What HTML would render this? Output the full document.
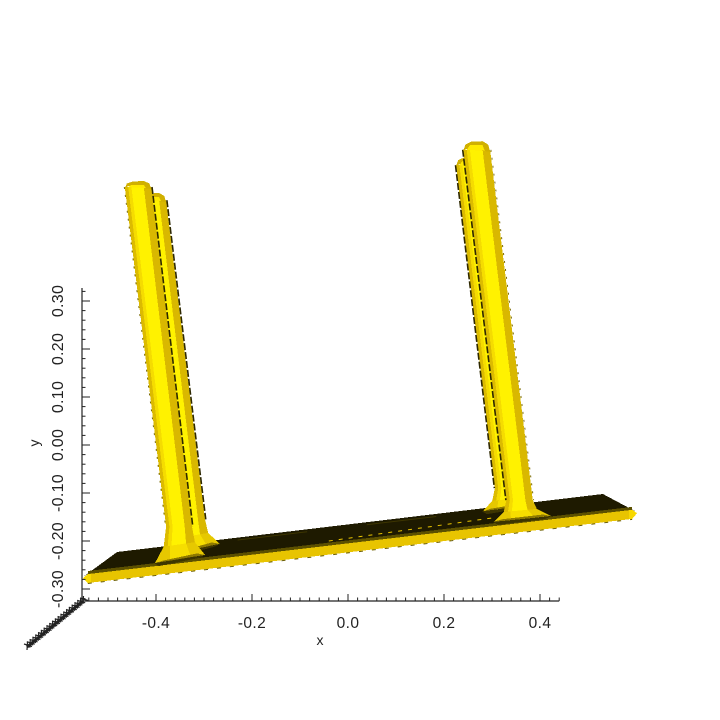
<!DOCTYPE html>
<html lang="en">
<head>
<meta charset="utf-8">
<title>3D surface</title>
<style>
html,body{margin:0;padding:0;background:#fff;width:720px;height:720px;overflow:hidden}
svg{display:block}
text{font-family:"Liberation Sans",sans-serif;fill:#222}
</style>
</head>
<body>
<svg id="chart" xmlns="http://www.w3.org/2000/svg" width="720" height="720" viewBox="0 0 720 720">
<rect width="720" height="720" fill="#fff"/>
</svg>
<script>
// Axis data
const xTickValues = [-0.4, -0.2, 0, 0.2, 0.4];
const xTickLabels = ["-0.4", "-0.2", "0.0", "0.2", "0.4"];
const yTickValues = [-0.3, -0.2, -0.1, 0, 0.1, 0.2, 0.3];
const yTickLabels = ["-0.30", "-0.20", "-0.10", "0.00", "0.10", "0.20", "0.30"];
const xRange = [-0.55, 0.44];
const yRange = [-0.325, 0.327];
const zTickCount = 20;

// Plate values, in axis units
const plateTopX = [-0.552, -0.481, 0.531, 0.602, 0.592, -0.542];
const plateTopY = [-0.275, -0.223, -0.102, -0.140, -0.135, -0.269];
const plateRimX = [-0.542, 0.592, 0.592, -0.542];
const plateRimY = [-0.2625, -0.129, -0.135, -0.269];
const plateFrontX = [-0.552, -0.542, 0.592, 0.602, 0.592, -0.542];
const plateFrontY = [-0.277, -0.269, -0.135, -0.142, -0.154, -0.2875];
const plateStreakX = [-0.23, 0.31];
const plateStreakY = [-0.198, -0.134];
const glintX = [-0.04, 0.30];
const glintY = [-0.200, -0.152];

// Column values, in axis units: back-left, front-left, back-right, front-right
const columnNames = ["back-left", "front-left", "back-right", "front-right"];
const topLeftX = [-0.431, -0.465, 0.225, 0.240];
const topRightX = [-0.379, -0.410, 0.279, 0.296];
const shoulderY = [0.510, 0.5375, 0.583, 0.615];
const apexY = [0.525, 0.550, 0.600, 0.633];
const neckLeftX = [-0.350, -0.379, 0.306, 0.330];
const neckRightX = [-0.298, -0.325, 0.360, 0.385];
const neckY = [-0.155, -0.170, -0.090, -0.115];
const flareLeftX = [-0.360, -0.402, 0.281, 0.304];
const flareLeftY = [-0.225, -0.246, -0.138, -0.160];
const flareRightX = [-0.267, -0.298, 0.379, 0.423];
const flareRightY = [-0.206, -0.229, -0.125, -0.148];

const svg = document.getElementById('chart');
const NS = 'http://www.w3.org/2000/svg';
const sx = v => 348 + v * 480;
const sy = v => 445 - v * 480;
const lerp = (a, b, t) => a + (b - a) * t;

function poly(name, pts, fill) {
  const el = document.createElementNS(NS, 'polygon');
  
  
  el.setAttribute('points', pts.map(p => p[0].toFixed(1) + ',' + p[1].toFixed(1)).join(' '));
  el.setAttribute('fill', fill);
  el.setAttribute('shape-rendering', 'crispEdges');
  svg.appendChild(el);
  return el;
}
function line(name, x1, y1, x2, y2, color, width, dash) {
  const el = document.createElementNS(NS, 'line');
  
  
  el.setAttribute('x1', x1);
  el.setAttribute('y1', y1);
  el.setAttribute('x2', x2);
  el.setAttribute('y2', y2);
  el.setAttribute('stroke', color);
  el.setAttribute('stroke-width', width);
  if (dash) el.setAttribute('stroke-dasharray', dash);
  svg.appendChild(el);
  return el;
}
function label(name, str, x, y, size, rotate, spacing) {
  const el = document.createElementNS(NS, 'text');
  
  
  el.setAttribute('x', x);
  el.setAttribute('y', y);
  el.setAttribute('font-size', size);
  el.setAttribute('text-anchor', 'middle');
  if (spacing) el.setAttribute('letter-spacing', spacing);
  if (rotate) el.setAttribute('transform', 'rotate(-90 ' + x + ' ' + y + ')');
  el.textContent = str;
  svg.appendChild(el);
}

function zip(xs, ys) {
  return xs.map((v, i) => [sx(v), sy(ys[i])]);
}

function drawPlate() {
  poly('plate-top-face', zip(plateTopX, plateTopY), '#1e1a00');
  poly('plate-rim', zip(plateRimX, plateRimY), '#5c5000');
  poly('plate-front-face', zip(plateFrontX, plateFrontY), '#e8c400');
  const tipL = zip(plateFrontX, plateFrontY);
  poly('plate-left-tip', [tipL[0], tipL[1], [tipL[1][0] + 3, tipL[1][1]], [tipL[5][0] + 3, tipL[5][1]], tipL[5]], '#f7d800');
  poly('plate-right-tip', [tipL[3], tipL[2], [tipL[2][0] - 3, tipL[2][1]], [tipL[4][0] - 3, tipL[4][1]], tipL[4]], '#f7d800');
  line('plate-streak', sx(plateStreakX[0]), sy(plateStreakY[0]), sx(plateStreakX[1]), sy(plateStreakY[1]), '#3d3500', 1, '70 60');
  line('plate-glint', sx(glintX[0]), sy(glintY[0]), sx(glintX[1]), sy(glintY[1]), '#e8c400', 1, '4 6');
  line('plate-front-edge', sx(plateFrontX[1]), sy(plateFrontY[5]) + 0.5, sx(plateFrontX[4]), sy(plateFrontY[4]) + 0.5, '#6b5d00', 1, '4 9');
}

function drawColumn(i) {
  const n = columnNames[i];
  const leansLeft = i < 2;
  const tl = sx(topLeftX[i]), tr = sx(topRightX[i]), ts = sy(shoulderY[i]), ap = sy(apexY[i]);
  const nl = sx(neckLeftX[i]), nr = sx(neckRightX[i]), ny = sy(neckY[i]);
  const fl = [sx(flareLeftX[i]), sy(flareLeftY[i])];
  const fr = [sx(flareRightX[i]), sy(flareRightY[i])];

  // profile at fraction a across the column: top, neck, waist of flare, flare rim
  const topAt = a => [lerp(tl, tr, a), ts];
  const neckAt = a => [lerp(nl, nr, a), ny];
  const rimAt = a => [lerp(fl[0], fr[0], a), lerp(fl[1], fr[1], a)];
  const waistAt = a => {
    const nk = neckAt(a), rm = rimAt(a);
    return [lerp(nk[0], rm[0], 0.22), lerp(nk[1], rm[1], 0.55)];
  };
  const band = (name, a, b, fill) => poly(n + '-' + name, [
    topAt(a), neckAt(a), waistAt(a), rimAt(a), rimAt(b), waistAt(b), neckAt(b), topAt(b)
  ], fill);

  // shadow under the flare rim
  poly(n + '-flare-shadow', [
    [fl[0] - 1, fl[1]], [fr[0] + 1, fr[1]], [fr[0] - 6, fr[1] + 3], [fl[0] + 4, fl[1] + 3]
  ], '#3d3500');

  band('band-left', 0, 0.13, '#dcbb00');
  band('band-left-soft', 0.13, 0.25, '#f5dc00');
  band('band-centre', 0.25, 0.72, '#fff200');
  band('band-right', 0.72, 1, '#d9b800');

  // lower flare facets
  poly(n + '-flare-facet-gold', [waistAt(0), rimAt(0), rimAt(1), waistAt(1), waistAt(0.5)], '#e6c800');
  poly(n + '-flare-facet-light', [waistAt(0.2), rimAt(0.3), rimAt(0.72), waistAt(0.72)], '#f6de00');
  poly(n + '-flare-rim', [rimAt(0), rimAt(1), [rimAt(1)[0] - 8, rimAt(1)[1] - 1.5], [rimAt(0)[0] + 8, rimAt(0)[1] - 2.5]], '#8f7a00');

  // edges
  line(n + '-left-edge', tl - 0.5, ts, nl - 0.5, ny, leansLeft ? '#7a6900' : '#2e2800', leansLeft ? 1 : 1.6, leansLeft ? '2 6' : '7 2');
  line(n + '-right-edge', tr + 0.8, ts, nr + 0.8, ny, leansLeft ? '#2e2800' : '#7a6900', leansLeft ? 1.6 : 1, leansLeft ? '7 2' : '2 6');

  // rounded cap
  poly(n + '-cap', [
    [tl, ts + 1],
    [lerp(tl, tr, 0.08), lerp(ts, ap, 0.6)],
    [lerp(tl, tr, 0.3), ap + 0.5],
    [lerp(tl, tr, 0.72), ap],
    [lerp(tl, tr, 0.93), lerp(ts, ap, 0.6)],
    [tr, ts + 2],
    [lerp(tl, tr, 0.72), ts + 1],
    [lerp(tl, tr, 0.13), ts - 1]
  ], '#d0b000');
  poly(n + '-cap-inner', [
    [lerp(tl, tr, 0.13), ts],
    [lerp(tl, tr, 0.25), ap + 4],
    [lerp(tl, tr, 0.72), ap + 4],
    [lerp(tl, tr, 0.8), ts + 1]
  ], '#ffea00');
}

function drawAxes() {
  const x0 = sx(xRange[0]) - 1, x1 = sx(xRange[1]);
  const yAxisX = 82, xAxisY = 601;
  line('x-axis-line', x0, xAxisY, x1, xAxisY, '#222', 1.2);
  line('y-axis-line', yAxisX, sy(yRange[0]), yAxisX, sy(yRange[1]), '#222', 1.2);

  for (let k = -27; k <= 22; k++) {
    const v = k * 0.02;
    const major = k % 10 === 0;
    line(major ? 'x-major-tick' : 'x-minor-tick', sx(v), xAxisY, sx(v), xAxisY - (major ? 7 : 3.5), '#222', 1);
  }
  for (let k = -16; k <= 16; k++) {
    const v = k * 0.02;
    const major = k % 5 === 0;
    line(major ? 'y-major-tick' : 'y-minor-tick', yAxisX, sy(v), yAxisX + (major ? 8 : 3.5), sy(v), '#222', 1);
  }
  xTickValues.forEach((v, i) => label('x-tick-label', xTickLabels[i], sx(v), 628, 15.5, false, 0.4));
  yTickValues.forEach((v, i) => label('y-tick-label', yTickLabels[i], 63, sy(v), 16, true, 0.3));
  label('x-axis-title', 'x', 320, 645, 14);
  label('y-axis-title', 'y', 39, 443, 14, true);

  const zx0 = 83, zy0 = 601, zx1 = 27, zy1 = 647;
  line('z-axis-line', zx0, zy0, zx1, zy1, '#222', 3);
  for (let k = 0; k <= zTickCount; k++) {
    const t = k / zTickCount;
    const px = lerp(zx0, zx1, t), py = lerp(zy0, zy1, t);
    line('z-tick', px - 3, py - 3, px + 5, py - 0.5, '#222', 1.2);
    line('z-tick', px, py + 3, px + 0.5, py - 5, '#222', 1.2);
  }
}

drawPlate();
drawColumn(0);
drawColumn(1);
drawColumn(2);
drawColumn(3);
drawAxes();
</script>
</body>
</html>
